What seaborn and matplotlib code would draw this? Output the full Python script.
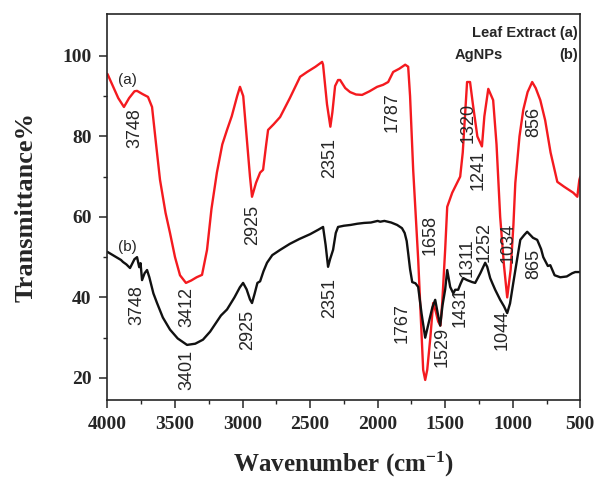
import numpy as np
import pandas as pd
import matplotlib
matplotlib.use("Agg")
import matplotlib.pyplot as plt
import seaborn as sns
from matplotlib.ticker import FixedLocator

# FTIR spektrum (a) - extrakt z listov
leaf_wn = [4000, 3960, 3920, 3878, 3840, 3800, 3781, 3740, 3700, 3670, 3640, 3611, 3570, 3537,
           3500, 3463, 3419, 3380, 3340, 3300, 3263, 3230, 3190, 3150, 3115, 3080, 3040, 3019,
           2995, 2970, 2945, 2930, 2900, 2870, 2848, 2825, 2811, 2770, 2722, 2650, 2574, 2522,
           2460, 2411, 2404, 2375, 2350, 2335, 2315, 2293, 2278, 2240, 2204, 2160, 2115, 2060,
           2004, 1960, 1922, 1885, 1840, 1796, 1774, 1760, 1737, 1700, 1663, 1648, 1633, 1610,
           1589, 1570, 1552, 1535, 1522, 1500, 1485, 1448, 1389, 1370, 1338, 1316, 1295, 1262,
           1228, 1210, 1181, 1145, 1120, 1093, 1065, 1041, 1015, 995, 981, 950, 922, 890, 856,
           830, 796, 760, 720, 670, 620, 552, 522, 507, 500]
leaf_t = [95.5, 92.5, 89.5, 87.3, 89.5, 91.2, 91.3, 90.5, 89.8, 87.3, 78, 69.2, 61, 56,
          50, 45.5, 43.6, 44.2, 45, 45.6, 51.8, 62, 71, 78, 81.6, 85, 90, 92.3,
          90, 80, 70, 65, 68.5, 71, 71.7, 78, 81.6, 83, 84.8, 89.5, 94.8, 96,
          97.3, 98.5, 97.8, 88, 82.4, 86, 92.5, 94, 94, 92, 91, 90.4, 90.3, 91.2,
          92.3, 92.8, 93.5, 96, 96.8, 97.8, 97.3, 90, 71.7, 49.5, 22, 19.5, 22, 30,
          38.6, 36.5, 34, 33, 38.6, 52, 62.5, 66, 70, 76, 93.5, 93.5, 88, 80,
          77.5, 85, 91.8, 89, 78, 60, 48, 40, 47, 58, 68.4, 80, 86.6, 91, 93.5,
          92, 89, 84, 76, 68.7, 67.5, 66, 65, 69.2, 70]

# FTIR spektrum (b) - AgNPs
agnp_wn = [4000, 3950, 3900, 3885, 3860, 3833, 3800, 3781, 3765, 3755, 3744, 3725, 3707, 3690,
           3660, 3633, 3590, 3537, 3480, 3411, 3350, 3293, 3240, 3200, 3160, 3115, 3060, 3020,
           2996, 2970, 2945, 2930, 2910, 2890, 2870, 2845, 2819, 2780, 2722, 2650, 2580, 2500,
           2440, 2404, 2385, 2367, 2352, 2330, 2310, 2293, 2250, 2200, 2150, 2100, 2050, 2000,
           1981, 1950, 1900, 1856, 1820, 1800, 1785, 1774, 1760, 1744, 1720, 1700, 1675, 1648,
           1620, 1595, 1574, 1555, 1537, 1520, 1500, 1485, 1463, 1440, 1426, 1404, 1385, 1367,
           1338, 1300, 1278, 1240, 1204, 1189, 1167, 1152, 1130, 1093, 1065, 1041, 1020, 996,
           970, 944, 915, 893, 870, 850, 819, 790, 774, 740, 722, 690, 648, 600, 560, 537, 500]
agnp_t = [51.3, 50.3, 49.3, 48.8, 48.2, 47.3, 49.5, 50, 47.5, 48.5, 44.3, 46, 46.8, 45,
          41, 38.6, 35, 32, 29.8, 28.2, 28.5, 29.5, 31.5, 33.5, 35.5, 37, 40, 42.5,
          43.6, 42, 39.5, 38.6, 41, 43.6, 44, 46.5, 48.6, 50.5, 51.8, 53.3, 54.5, 55.7,
          56.8, 57.5, 53, 47.6, 49.5, 51.8, 56, 57.5, 57.8, 58, 58.3, 58.5, 58.6, 59,
          58.8, 59, 58.6, 58, 57.2, 56, 54, 51, 47, 43.8, 43.5, 42.6, 36, 30,
          34, 37.5, 39.4, 36, 33, 38, 42, 46.8, 42.6, 41, 41.9, 41.9, 43.5, 44.8,
          44.3, 43.8, 43.6, 46, 48.6, 47.6, 44.8, 43.6, 41.9, 39.4, 37.8, 36.1, 38.5, 43.6,
          49, 54.3, 55.5, 56.3, 55.5, 54.8, 54.3, 52, 50, 47.8, 48, 45.5, 45, 45.2, 46, 46.3, 46.3]

# popisky pikov (text, wavenumber, transmitancia)
peak_labels = ["3748", "2925", "2351", "1787", "1320", "1241", "856", "1658", "1034",
               "3748", "3412", "3401", "2925", "2351", "1767", "1529", "1431", "1311",
               "1252", "1044", "865"]
peak_wn = [3796, 2922, 2352, 1893, 1330, 1256, 848, 1611, 1033,
           3781, 3411, 3411, 2959, 2352, 1819, 1522, 1389, 1335,
           1215, 1078, 844]
peak_t = [82.1, 58.0, 74.7, 86.0, 83.4, 71.7, 83.6, 55.5, 53.5,
          38.1, 37.6, 22.0, 31.9, 39.9, 33.7, 27.7, 37.6, 49.8,
          53.8, 31.9, 48.3]

x_ticks = [4000, 3500, 3000, 2500, 2000, 1500, 1000, 500]
y_ticks = [20, 40, 60, 80, 100]

serif = "Liberation Serif"
sans = "Liberation Sans"


def make_frame(wn, t, name):
    return pd.DataFrame({"wn": wn, "t": t, "sample": name})


if __name__ == "__main__":
    sns.set_style("ticks")
    plt.rcParams["font.family"] = [sans, "DejaVu Sans"]
    plt.rcParams["mathtext.fontset"] = "custom"
    plt.rcParams["mathtext.rm"] = serif + ":bold"
    plt.rcParams["mathtext.it"] = serif + ":bold"
    plt.rcParams["mathtext.bf"] = serif + ":bold"
    plt.rcParams["mathtext.default"] = "bf"

    data = pd.concat([make_frame(leaf_wn, leaf_t, "Leaf Extract"),
                      make_frame(agnp_wn, agnp_t, "AgNPs")])

    fig = plt.figure(figsize=(5.97, 4.82), dpi=100)
    ax = fig.add_axes([0.180, 0.170, 0.792, 0.801])

    sns.lineplot(data=data, x="wn", y="t", hue="sample", ax=ax, estimator=None,
                 palette={"Leaf Extract": "#f41a1f", "AgNPs": "#111111"},
                 linewidth=1.7, legend=False)

    ax.set_xlim(4000, 500)
    ax.set_ylim(14.5, 110.4)
    ax.set_xticks(x_ticks)
    ax.set_yticks(y_ticks)
    ax.xaxis.set_minor_locator(FixedLocator([3750, 3250, 2750, 2250, 1750, 1250, 750]))
    ax.yaxis.set_minor_locator(FixedLocator([30, 50, 70, 90]))
    ax.tick_params(which="major", direction="out", length=5.5, width=1.1,
                   labelsize=14)
    ax.tick_params(axis="x", which="major", pad=6)
    ax.tick_params(axis="y", which="major", pad=6)
    ax.tick_params(which="minor", direction="out", length=3, width=1.0)
    for lab in ax.get_xticklabels() + ax.get_yticklabels():
        lab.set_fontfamily(serif)
        lab.set_fontweight("bold")
    for sp in ax.spines.values():
        sp.set_visible(True)
        sp.set_linewidth(1.2)

    ax.set_xlabel("Wavenumber (cm$^{-1}$)", fontfamily=serif, fontweight="bold",
                  fontsize=18, labelpad=12)
    ax.set_ylabel("Transmittance%", fontfamily=serif, fontweight="bold",
                  fontsize=19, labelpad=18)

    # popisky pikov
    for txt, x, y in zip(peak_labels, peak_wn, peak_t):
        ax.text(x, y, txt, rotation=90, ha="center", va="center", fontsize=13)

    ax.text(3855, 94.0, "(a)", ha="center", va="center", fontsize=11)
    ax.text(3855, 52.5, "(b)", ha="center", va="center", fontsize=11)

    # legenda ako text v pravom hornom rohu
    ax.text(0.995, 0.95, "Leaf Extract (a)", transform=ax.transAxes, ha="right",
            va="center", fontsize=10.5, fontweight="bold")
    ax.text(0.735, 0.895, "AgNPs", transform=ax.transAxes, ha="left",
            va="center", fontsize=10.5, fontweight="bold")
    ax.text(0.995, 0.895, "(b)", transform=ax.transAxes, ha="right",
            va="center", fontsize=10.5, fontweight="bold")

    fig.savefig("out.png", dpi=100)
